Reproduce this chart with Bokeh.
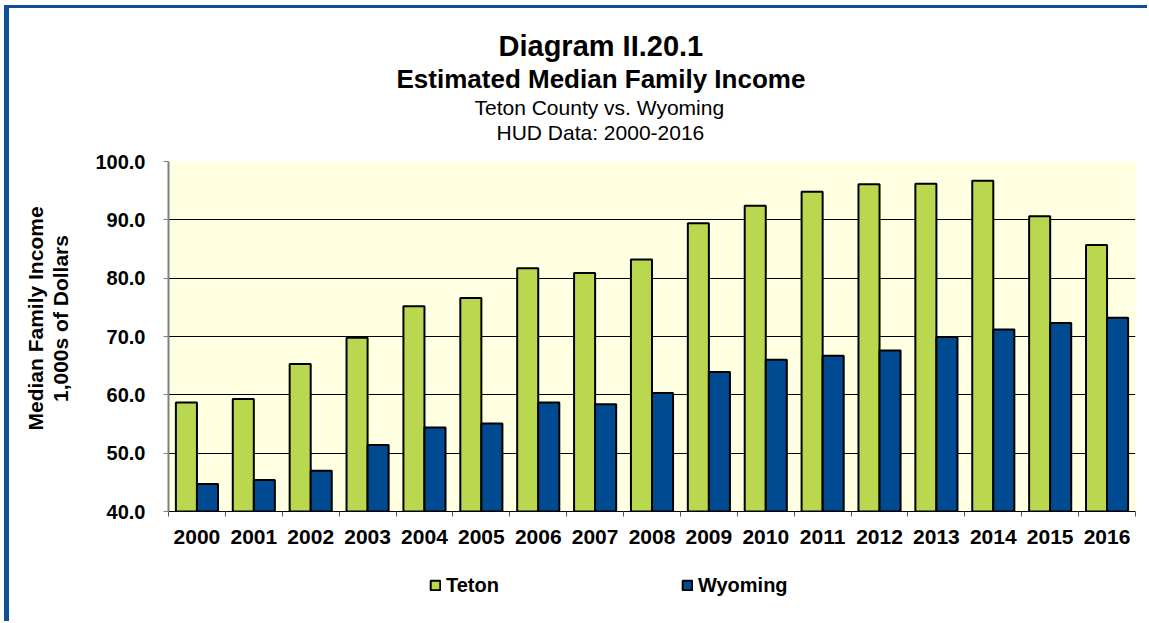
from bokeh.plotting import figure
from bokeh.models import (ColumnDataSource, Range1d, FixedTicker, NumeralTickFormatter,
                          Title, Legend, LegendItem)
from bokeh.layouts import column
from bokeh.transform import dodge
from bokeh.embed import file_html
from bokeh.resources import INLINE

years = ["2000", "2001", "2002", "2003", "2004", "2005", "2006", "2007", "2008",
         "2009", "2010", "2011", "2012", "2013", "2014", "2015", "2016"]
teton = [58.7, 59.3, 65.3, 69.8, 75.2, 76.6, 81.7, 80.9, 83.2, 89.4, 92.4, 94.8,
         96.1, 96.2, 96.7, 90.6, 85.7]
wyoming = [44.7, 45.4, 47.0, 51.4, 54.4, 55.1, 58.7, 58.4, 60.3, 63.9, 66.0, 66.7,
           67.6, 69.9, 71.2, 72.3, 73.2]
y_ticks = [40, 50, 60, 70, 80, 90, 100]
series_names = ["Teton", "Wyoming"]

title_lines = ["Diagram II.20.1", "Estimated Median Family Income",
               "Teton County vs. Wyoming", "HUD Data: 2000-2016"]
y_label_lines = ["Median Family Income", "1,000s of Dollars"]

FONT = "Liberation Sans"
GREEN = "#BAD84F"
BLUE = "#004A92"
FRAME_BLUE = "#0E4F98"

idx = list(range(len(years)))
src = ColumnDataSource(dict(idx=idx, teton=teton, wyoming=wyoming))

p = figure(width=1138, height=560, output_backend="svg", toolbar_location=None,
           x_range=Range1d(-0.5, len(years) - 0.5), y_range=Range1d(40, 100),
           min_border_left=159, min_border_right=12, min_border_top=153,
           min_border_bottom=57, title=None)
p.background_fill_color = "#FFFFE1"
p.border_fill_color = "white"
p.outline_line_color = None

p.vbar(x=dodge("idx", -0.185), top="teton", bottom=40, width=0.37, source=src,
       fill_color=GREEN, line_color="black", line_width=2)
p.vbar(x=dodge("idx", 0.185), top="wyoming", bottom=40, width=0.37, source=src,
       fill_color=BLUE, line_color="black", line_width=2)

# x axis
xa = p.xaxis[0]
xa.ticker = FixedTicker(ticks=idx, minor_ticks=[i - 0.5 for i in range(len(years) + 1)])
xa.major_label_overrides = {i: y for i, y in enumerate(years)}
xa.major_tick_line_color = None
xa.major_tick_out = 5
xa.minor_tick_out = 5
xa.minor_tick_in = 0
xa.minor_tick_line_color = "#555555"
xa.minor_tick_line_width = 1
xa.axis_line_color = "black"
xa.axis_line_width = 1
xa.major_label_text_font = FONT
xa.major_label_text_font_style = "bold"
xa.major_label_text_font_size = "21px"
xa.major_label_text_color = "black"
xa.major_label_standoff = 13

# y axis
ya = p.yaxis[0]
ya.ticker = FixedTicker(ticks=y_ticks)
ya.formatter = NumeralTickFormatter(format="0.0")
ya.major_tick_out = 5
ya.major_tick_in = 0
ya.minor_tick_line_color = None
ya.major_tick_line_color = "#808080"
ya.axis_line_color = "#808080"
ya.axis_line_width = 2
ya.major_label_text_font = FONT
ya.major_label_text_font_style = "bold"
ya.major_label_text_font_size = "20px"
ya.major_label_text_color = "black"
ya.major_label_standoff = 18

p.xgrid.grid_line_color = None
p.ygrid.grid_line_color = "black"
p.ygrid.grid_line_width = 1
p.ygrid.ticker = FixedTicker(ticks=y_ticks)

# titles above (first added sits closest to the plot)
p.add_layout(Title(text=" ", text_font_size="12px", standoff=2), "above")
t_specs = [(title_lines[3], "21px", "normal", 328),
           (title_lines[2], "21px", "normal", 306),
           (title_lines[1], "26px", "bold", 228),
           (title_lines[0], "29px", "bold", 330)]
for txt, fs, st, off in t_specs:
    p.add_layout(Title(text=txt, align="left", offset=off, standoff=0,
                       text_font=FONT, text_font_size=fs, text_font_style=st,
                       text_color="black"), "above")

# y axis label lines on the left
p.add_layout(Title(text=" ", text_font_size="12px", standoff=5), "left")
for txt, off in [(y_label_lines[1], 109.5), (y_label_lines[0], 81)]:
    p.add_layout(Title(text=txt, align="left", offset=off, standoff=0,
                       text_font=FONT, text_font_size="21px", text_font_style="bold",
                       text_color="black"), "left")

# legend strip below the chart (hidden copies of the series feed the legend glyphs)
lf = figure(width=1138, height=53, output_backend="svg", toolbar_location=None,
            x_range=Range1d(-0.5, len(years) - 0.5), y_range=Range1d(0, 1),
            x_axis_location=None, y_axis_location=None, min_border=0, title=None)
lf.outline_line_color = None
lf.background_fill_color = "white"
lf.border_fill_color = "white"
lf.xgrid.visible = False
lf.ygrid.visible = False
lr1 = lf.vbar(x=dodge("idx", -0.185), top="teton", bottom=40, width=0.37, source=src,
              fill_color=GREEN, line_color="black", line_width=2)
lr2 = lf.vbar(x=dodge("idx", 0.185), top="wyoming", bottom=40, width=0.37, source=src,
              fill_color=BLUE, line_color="black", line_width=2)
lr1.visible = False
lr2.visible = False
legend = Legend(items=[LegendItem(label=series_names[0], renderers=[lr1]),
                       LegendItem(label=series_names[1], renderers=[lr2])],
                location=(261, 24.5), orientation="horizontal")
legend.border_line_color = None
legend.background_fill_alpha = 0
legend.inactive_fill_alpha = 0
legend.padding = 0
legend.margin = 0
legend.spacing = 182
legend.glyph_width = 12
legend.glyph_height = 12
legend.label_standoff = 5
legend.label_text_font = FONT
legend.label_text_font_style = "bold"
legend.label_text_font_size = "20px"
legend.label_text_color = "black"
lf.add_layout(legend)

page = column(p, lf, spacing=0)
page.styles = {"border-left": f"5px solid {FRAME_BLUE}", "border-top": f"3px solid {FRAME_BLUE}",
               "margin-left": "4px", "margin-top": "5px"}

open("out.html", "w").write(file_html(page, INLINE))
